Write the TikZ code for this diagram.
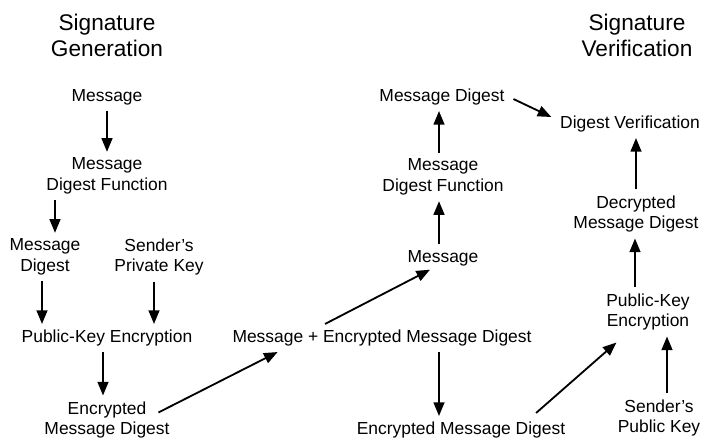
\documentclass[tikz,border=0pt]{standalone}
\usepackage{fontspec}
\setmainfont{Liberation Sans}
\usepackage{tikz}
\usetikzlibrary{arrows.meta}
\newcommand{\boxfont}{\fontsize{12.4}{14.9}\selectfont}
\newcommand{\headfont}{\fontsize{16.1}{18.4}\selectfont}

\begin{document}
\begin{tikzpicture}[x=0.025cm,y=-0.025cm,
		lbl/.style={inner sep=4pt,align=center,font=\boxfont},
		ttl/.style={align=center,font=\headfont},
		arr/.style={-{Triangle[length=0.34cm,width=0.27cm]},line width=1.3pt}]
		\useasboundingbox (0,0) rectangle (704,441);
		\node[ttl] (sg) at (107,35) {Signature\\Generation};
		\node[ttl] (sv) at (637,35) {Signature\\Verification};
		\node[lbl] (msg1) at (107,97) {Message};
		\node[lbl] (mdf1) at (107,176) {Message\\Digest Function};
		\node[lbl] (md1) at (45,257) {Message\\Digest};
		\node[lbl] (spk1) at (159,257) {Sender's\\Private Key};
		\node[lbl] (pke1) at (107,338) {Public-Key Encryption};
		\node[lbl] (ed1) at (107,420) {Encrypted\\Message Digest};
		\node[lbl] (mpe) at (382,338) {Message + Encrypted Message Digest};
		\node[lbl] (msg2) at (443,258) {Message};
		\node[lbl] (mdf2) at (443,177) {Message\\Digest Function};
		\node[lbl] (md2) at (442,97) {Message Digest};
		\node[lbl] (dv) at (630,124) {Digest Verification};
		\node[lbl] (dmd) at (636,214) {Decrypted\\Message Digest};
		\node[lbl] (pke2) at (648,312) {Public-Key\\Encryption};
		\node[lbl] (spk2) at (659,418) {Sender's\\Public Key};
		\node[lbl] (emd2) at (461,430) {Encrypted Message Digest};
		\draw[arr] (msg1) -- (mdf1);
		\draw[arr] ([shift={(-52,0)}]mdf1.south) coordinate (a2) -- (a2 |- md1.north);
		\draw[arr] ([shift={(-3,0)}]md1.south) coordinate (a3) -- (a3 |- pke1.north);
		\draw[arr] ([shift={(-5,0)}]spk1.south) coordinate (a4) -- (a4 |- pke1.north);
		\draw[arr] ([shift={(-4,0)}]pke1.south) coordinate (a5) -- (a5 |- ed1.north);
		\draw[arr] ([shift={(-17,17)}]ed1.north east) -- ([shift={(51,0)}]mpe.south west);
		\draw[arr] ([shift={(-57,0)}]mpe.north) -- ([shift={(-13,-2)}]msg2.south);
		\draw[arr] ([shift={(-4,0)}]msg2.north) coordinate (a8) -- (a8 |- mdf2.south);
		\draw[arr] ([shift={(-4,0)}]mdf2.north) coordinate (a9) -- (a9 |- md2.south);
		\draw[arr] ([shift={(3,2)}]md2.east) -- ([shift={(-3,-7)}]dv.west);
		\draw[arr] (dmd.north) -- (dmd.north |- dv.south);
		\draw[arr] ([shift={(-13,0)}]pke2.north) coordinate (a12) -- (a12 |- dmd.south);
		\draw[arr] ([shift={(-35,-3)}]emd2.north east) -- ([shift={(16,6)}]pke2.south west);
		\draw[arr] ([shift={(8,0)}]spk2.north) coordinate (a14) -- (a14 |- pke2.south);
		\draw[arr] ([shift={(57,0)}]mpe.south) coordinate (a15) -- (a15 |- emd2.north);
	\end{tikzpicture}
\end{document}
